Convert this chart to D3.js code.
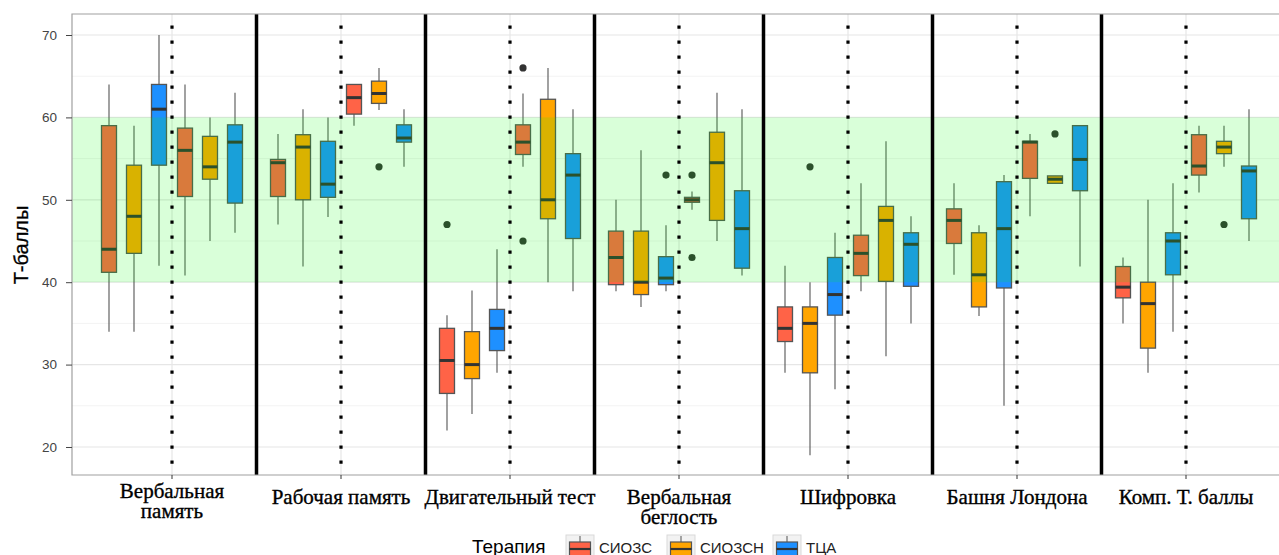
<!DOCTYPE html>
<html><head><meta charset="utf-8">
<script src="https://cdn.jsdelivr.net/npm/d3@7"></script>
<style>body{margin:0;background:#fff;overflow:hidden}</style></head>
<body>
<svg id="c" width="1279" height="555"></svg>
<script>
const categories = ["Вербальная память","Рабочая память","Двигательный тест","Вербальная беглость","Шифровка","Башня Лондона","Комп. Т. баллы"];
const labelLines = [["Вербальная","память"],["Рабочая память"],["Двигательный тест"],["Вербальная","беглость"],["Шифровка"],["Башня Лондона"],["Комп. Т. баллы"]];
const phases = ["до","после"];
const therapies = ["СИОЗС","СИОЗСН","ТЦА"];
const colors = ["#FF6347","#FFA500","#1E90FF"];
const yTicks = [20,30,40,50,60,70];
const yMinorTicks = [25,35,45,55,65];
const normalBand = [40,60];
// five-number summaries [low, q1, median, q3, high], one per category
const ssriBefore = [[34,41.2,44,59,64],[47,50.4,54.5,54.9,58],[22,26.5,30.5,34.4,36],[38.9,39.7,43,46.2,50],[29,32.8,34.4,37,42],[40.9,44.7,47.5,48.9,52],[35,38.1,39.4,41.9,43]];
const snriBefore = [[34,43.5,48,54.2,59],[41.9,50,56.4,57.9,61],[24,28.3,30,34,39],[37,38.5,40,46.2,56],[19,29,35,37,40],[35.9,37,40.9,46,46.9],[29,32,37.4,40,50]];
const tcaBefore  = [[42,54.2,61,64,70],[47.9,50.3,51.9,57.1,60],[29,31.7,34.4,36.7,44],[38.9,39.7,40.5,43.1,46.9],[27,36,38.5,43,46],[25,39.3,46.5,52.2,53],[34,40.9,45,46,52]];
const ssriAfter  = [[40.8,50.4,56,58.7,64],[59,60.4,62.4,64,64],[54,55.5,57,59.1,62.9],[48.8,49.7,50,50.3,51],[38.9,40.8,43.5,45.7,52],[48,52.6,57,57.1,58],[50.9,53,54.1,57.9,59]];
const snriAfter  = [[45,52.5,54,57.7,60],[60.9,61.7,62.9,64.4,66],[40,47.7,50,62.2,66],[45,47.5,54.5,58.2,63],[31,40.1,47.5,49.2,57.1],[52,52,52.5,52.9,52.9],[54,55.6,56.4,57.1,59]];
const tcaAfter   = [[46,49.6,57,59.1,63],[54,57,57.5,59.1,61],[38.9,45.3,53,55.6,61],[40.8,41.7,46.5,51.1,61],[35,39.5,44.6,46,48],[41.9,51.1,54.9,59,59],[45,47.7,53.5,54.1,61]];
// outliers: [category index, phase index, therapy index, value]
const outliers = [[1,1,1,54],[2,0,0,47],[2,1,0,66],[2,1,0,45],[3,0,2,53],[3,1,0,53],[3,1,0,43],[4,0,1,54],[5,1,1,58],[6,1,1,47]];

const series = [[ssriBefore,snriBefore,tcaBefore],[ssriAfter,snriAfter,tcaAfter]];

const svg = d3.select("#c");
const L = 72, T = 14, R = 1279, B = 475;
const y = d3.scaleLinear().domain([16.6,72.55]).range([B,T]);
const x = d3.scaleBand().domain(categories).range([87.5,1270.5]);
const xPhase = d3.scaleBand().domain(phases).range([-76,76]);
const xTher = d3.scaleBand().domain(therapies).range([-37.5,37.5]);
const color = d3.scaleOrdinal().domain(therapies).range(colors);
const gc = c => x(c) + x.bandwidth()/2;
const cx = (ci,pi,ti) => gc(categories[ci]) + xPhase(phases[pi]) + xPhase.bandwidth()/2 + xTher(therapies[ti]) + xTher.bandwidth()/2;
const bw = xTher.bandwidth()*0.6;

// grid
const grid = svg.append("g");
grid.selectAll(".mn").data(yMinorTicks).join("line")
  .attr("x1",L).attr("x2",R).attr("y1",d=>y(d)).attr("y2",d=>y(d))
  .attr("stroke","#F3F3F3").attr("stroke-width",1);
grid.selectAll(".mj").data(yTicks).join("line")
  .attr("x1",L).attr("x2",R).attr("y1",d=>y(d)).attr("y2",d=>y(d))
  .attr("stroke","#E6E6E6").attr("stroke-width",1.2);
grid.selectAll(".vx").data(categories).join("line")
  .attr("x1",d=>gc(d)).attr("x2",d=>gc(d)).attr("y1",T).attr("y2",B)
  .attr("stroke","#E6E6E6").attr("stroke-width",1.2);

// boxes
const rows = [];
series.forEach((ph,pi)=>ph.forEach((arr,ti)=>arr.forEach((s,ci)=>rows.push({ci,pi,ti,s}))));
const bx = svg.append("g");
const g = bx.selectAll("g").data(rows).join("g");
g.append("line").attr("x1",d=>cx(d.ci,d.pi,d.ti)).attr("x2",d=>cx(d.ci,d.pi,d.ti))
  .attr("y1",d=>y(d.s[0])).attr("y2",d=>y(d.s[4])).attr("stroke","#555").attr("stroke-width",1.1);
g.append("rect").attr("x",d=>cx(d.ci,d.pi,d.ti)-bw/2).attr("width",bw)
  .attr("y",d=>y(d.s[3])).attr("height",d=>Math.max(0.5,y(d.s[1])-y(d.s[3])))
  .attr("fill",d=>color(therapies[d.ti])).attr("stroke","#555").attr("stroke-width",1.3);
g.append("line").attr("x1",d=>cx(d.ci,d.pi,d.ti)-bw/2).attr("x2",d=>cx(d.ci,d.pi,d.ti)+bw/2)
  .attr("y1",d=>y(d.s[2])).attr("y2",d=>y(d.s[2])).attr("stroke","#333").attr("stroke-width",3);
bx.selectAll("circle").data(outliers).join("circle")
  .attr("cx",d=>cx(d[0],d[1],d[2])).attr("cy",d=>y(d[3])).attr("r",3.6).attr("fill","#333");

// normal range band overlay
svg.append("rect").attr("x",L).attr("width",R-L).attr("y",y(normalBand[1])).attr("height",y(normalBand[0])-y(normalBand[1]))
  .attr("fill","rgb(0,255,0)").attr("fill-opacity",0.15);

// dotted centre lines and separators
svg.selectAll(".dot").data(categories).join("line")
  .attr("x1",d=>gc(d)).attr("x2",d=>gc(d)).attr("y1",25.5).attr("y2",B)
  .attr("stroke","#000").attr("stroke-width",3.2).attr("stroke-dasharray","3.2,11.8");
svg.selectAll(".sep").data(categories.slice(1)).join("line")
  .attr("x1",d=>x(d)).attr("x2",d=>x(d)).attr("y1",T).attr("y2",B)
  .attr("stroke","#000").attr("stroke-width",3.5);

// panel border
svg.append("path").attr("d",`M${R},${T}H${L}V${B}H${R}`).attr("fill","none").attr("stroke","#A0A0A0").attr("stroke-width",1.2);

// y axis
const ya = svg.append("g").attr("transform",`translate(${L},0)`)
  .call(d3.axisLeft(y).tickValues(yTicks).tickSize(6).tickPadding(9));
ya.select(".domain").remove();
ya.selectAll("line").attr("stroke","#444");
ya.selectAll("text").attr("font-family","Liberation Sans, Arial, sans-serif").attr("font-size",13.5).attr("fill","#444");

// x axis ticks
const xa = svg.append("g").attr("transform",`translate(0,${B})`)
  .call(d3.axisBottom(x).tickSize(4).tickFormat(""));
xa.select(".domain").remove();
xa.selectAll("line").attr("stroke","#333");
const xl = svg.append("g");
categories.forEach((c,i)=>{
  const lines = labelLines[i];
  const base = (lines.length>1 && i===0) ? 498 : 503.5;
  lines.forEach((ln,k)=>xl.append("text").attr("x",gc(c)).attr("y",base + k*20).attr("text-anchor","middle")
    .attr("font-family","Liberation Serif, Times New Roman, serif").attr("font-size",21).attr("fill","#000")
    .attr("stroke","#000").attr("stroke-width",0.35).text(ln));
});

// y title
svg.append("text").attr("transform","translate(28,245) rotate(-90)").attr("text-anchor","middle")
  .attr("font-family","Liberation Sans, Arial, sans-serif").attr("font-size",20).attr("fill","#000")
  .attr("stroke","#000").attr("stroke-width",0.3).text("Т-баллы");

// legend
const lg = svg.append("g");
lg.append("text").attr("x",472).attr("y",553).attr("font-family","Liberation Sans, Arial, sans-serif")
  .attr("font-size",19).attr("fill","#000").text("Терапия");
const keyX = [566,667,773];
therapies.forEach((t,i)=>{
  const kx = keyX[i];
  lg.append("rect").attr("x",kx).attr("y",535).attr("width",28).attr("height",28).attr("fill","#F2F2F2").attr("stroke","#D9D9D9");
  lg.append("line").attr("x1",kx+14).attr("x2",kx+14).attr("y1",536).attr("y2",542).attr("stroke","#555");
  lg.append("rect").attr("x",kx+3.5).attr("y",542).attr("width",21).attr("height",16).attr("fill",color(t)).attr("stroke","#555").attr("stroke-width",1.2);
  lg.append("line").attr("x1",kx+3.5).attr("x2",kx+24.5).attr("y1",549).attr("y2",549).attr("stroke","#333").attr("stroke-width",2.2);
  lg.append("text").attr("x",kx+33).attr("y",553).attr("font-family","Liberation Sans, Arial, sans-serif")
    .attr("font-size",15).attr("fill","#222").text(t);
});
</script>
</body></html>
